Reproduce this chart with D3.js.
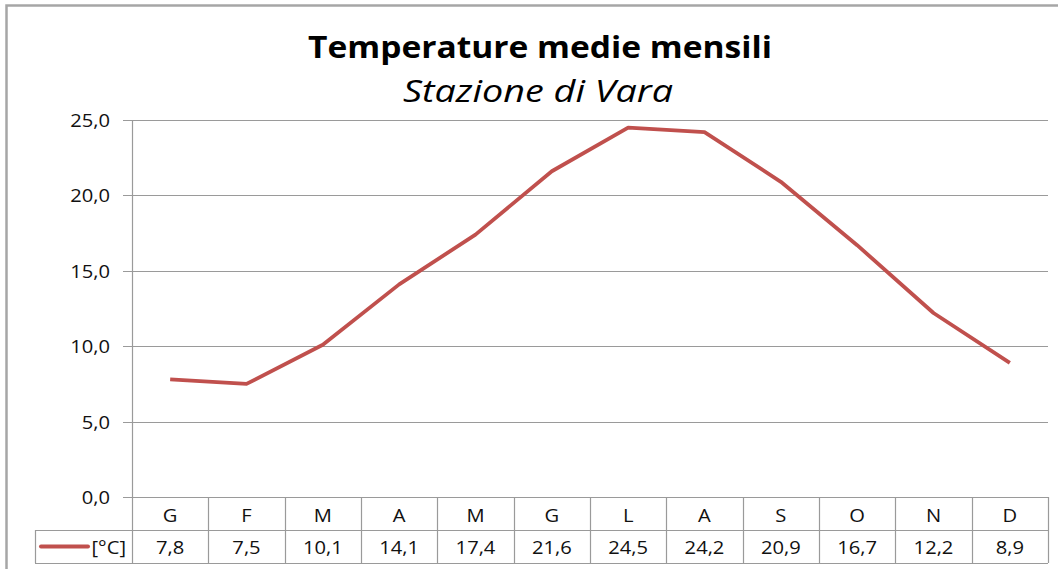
<!DOCTYPE html>
<html><head><meta charset="utf-8">
<script src="https://cdn.jsdelivr.net/npm/d3@7"></script>
<style>body{margin:0;background:#fff}svg{display:block}</style>
</head><body>
<script>
const months = ["G","F","M","A","M","G","L","A","S","O","N","D"];
const temps = [7.8,7.5,10.1,14.1,17.4,21.6,24.5,24.2,20.9,16.7,12.2,8.9];
const yTicks = [0,5,10,15,20,25];
const seriesName = "[°C]";
const titleText = "Temperature medie mensili";
const subtitleText = "Stazione di Vara";

const W=1058,H=569;
const svg=d3.select("body").append("svg").attr("width",W).attr("height",H);
const font="'Open Sans', 'Liberation Sans', sans-serif";
const fmt=v=>d3.format(".1f")(v).replace(".",",");
const SX=1.12, FS=18;
function stxt(sel,xf,yf){
  return sel.attr("transform",(d,i)=>`translate(${xf(d,i)},${yf(d,i)}) scale(${SX},1)`)
    .attr("font-family",font).attr("font-size",FS).attr("fill","#111");
}

// outer border
svg.append("rect").attr("x",6.5).attr("y",5.5).attr("width",W+10).attr("height",H+10)
  .attr("fill","none").attr("stroke","#a6a6a6").attr("stroke-width",2.5);

const L=132,R=1048,T=120,B=497;
const x=d3.scaleBand().domain(d3.range(12)).range([L,R]);
const y=d3.scaleLinear().domain([0,25]).range([B,T]);

// gridlines
svg.append("g").selectAll("line").data(yTicks).join("line")
  .attr("x1",L-9).attr("x2",R).attr("y1",d=>Math.round(y(d))+0.5).attr("y2",d=>Math.round(y(d))+0.5)
  .attr("stroke","#9a9a9a").attr("stroke-width",1.2);
// y axis
svg.append("line").attr("x1",L+0.5).attr("x2",L+0.5).attr("y1",T).attr("y2",B).attr("stroke","#9a9a9a").attr("stroke-width",1.2);
stxt(svg.append("g").selectAll("text").data(yTicks).join("text"),()=>110,d=>y(d)+7)
  .attr("text-anchor","end").text(fmt);

// table
const rowH=33, r1=B, r2=B+rowH, r3=B+2*rowH;
const tg=svg.append("g").attr("stroke","#9a9a9a").attr("stroke-width",1.2).attr("fill","none");
tg.append("line").attr("x1",L).attr("x2",R).attr("y1",r2+0.5).attr("y2",r2+0.5);
tg.append("line").attr("x1",35).attr("x2",L).attr("y1",r2+0.5).attr("y2",r2+0.5);
tg.append("line").attr("x1",35).attr("x2",R).attr("y1",r3+0.5).attr("y2",r3+0.5);
tg.append("line").attr("x1",35.5).attr("x2",35.5).attr("y1",r2).attr("y2",r3);
tg.selectAll(".v").data(d3.range(13)).join("line")
  .attr("x1",i=>Math.round(i<12?x(i):R)+0.5).attr("x2",i=>Math.round(i<12?x(i):R)+0.5)
  .attr("y1",r1).attr("y2",r3);

stxt(svg.append("g").selectAll("text").data(months).join("text"),(d,i)=>x(i)+x.bandwidth()/2,()=>r1+25)
  .attr("text-anchor","middle").text(d=>d);
stxt(svg.append("g").selectAll("text").data(temps).join("text"),(d,i)=>x(i)+x.bandwidth()/2,()=>r2+23.5)
  .attr("text-anchor","middle").text(fmt);
svg.append("line").attr("x1",41).attr("x2",88).attr("y1",r2+16.5).attr("y2",r2+16.5)
  .attr("stroke","#C0504D").attr("stroke-width",4).attr("stroke-linecap","round");
stxt(svg.append("text"),()=>126,()=>r2+23.5).attr("text-anchor","end").text(seriesName);

// line
const line=d3.line().x((d,i)=>x(i)+x.bandwidth()/2).y(d=>y(d));
svg.append("path").datum(temps).attr("d",line).attr("fill","none")
  .attr("stroke","#C0504D").attr("stroke-width",3.8).attr("stroke-linejoin","round");

// titles
svg.append("text").attr("x",540).attr("y",58).attr("text-anchor","middle")
  .attr("font-family",font).attr("font-weight","bold").attr("font-size",31)
  .attr("textLength",464).attr("lengthAdjust","spacingAndGlyphs").attr("fill","#000").text(titleText);
svg.append("text").attr("x",538).attr("y",102).attr("text-anchor","middle")
  .attr("font-family",font).attr("font-style","italic").attr("font-size",31)
  .attr("textLength",270).attr("lengthAdjust","spacingAndGlyphs").attr("fill","#000").text(subtitleText);
</script>
</body></html>
